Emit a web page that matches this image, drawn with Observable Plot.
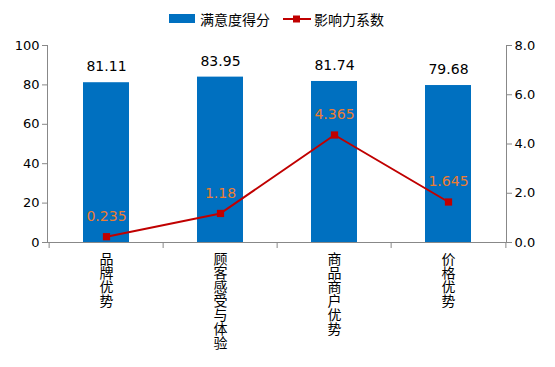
<!DOCTYPE html>
<html><head><meta charset="utf-8">
<script src="https://cdn.jsdelivr.net/npm/d3@7"></script>
<script src="https://cdn.jsdelivr.net/npm/@observablehq/plot@0.6"></script>
<style>
body{margin:0;background:#fff;}
#wrap{position:relative;width:555px;height:367px;font-family:"DejaVu Sans","Noto Sans CJK SC",sans-serif;}
#legend{position:absolute;top:0;left:0;width:555px;height:36px;font-family:"Noto Sans CJK SC",sans-serif;font-size:14px;color:#000;}
#legend .sw{position:absolute;left:169px;top:14px;width:26px;height:9px;background:#0070C0;}
#legend .t1{position:absolute;left:200px;top:9px;line-height:20px;}
#legend svg{position:absolute;left:282px;top:12px;}
#legend .t2{position:absolute;left:314px;top:9px;line-height:20px;}
#chart{position:absolute;top:0;left:0;}
</style></head>
<body><div id="wrap">
<div id="chart"></div>
<div id="legend"></div>
</div>
<script>
const categories = ["品牌优势","顾客感受与体验","商品商户优势","价格优势"];
const scores = [81.11, 83.95, 81.74, 79.68];
const coefs = [0.235, 1.18, 4.365, 1.645];
const scoreLabels = ["81.11","83.95","81.74","79.68"];
const coefLabels = ["0.235","1.18","4.365","1.645"];
const leftTicks = [0,20,40,60,80,100];
const rightTicks = [0,2,4,6,8];
const seriesNames = ["满意度得分","影响力系数"];

const leftMax = 100, rightMax = 8;
const k = leftMax / rightMax;
const rows = categories.map((c,i)=>({cat:c, score:scores[i], coef:coefs[i], coefY:coefs[i]*k, sl:scoreLabels[i], cl:coefLabels[i]}));

const W=555, H=367, mL=47, mR=49, mT=45, mB=125;
const step = (W-mL-mR)/categories.length;
const bounds = categories.map((c,i)=>({cat:c, dx:-step/2})).concat([{cat:categories[categories.length-1], dx:step/2}]);

document.getElementById("legend").innerHTML =
  `<div class="sw"></div><div class="t1">${seriesNames[0]}</div>` +
  `<svg width="30" height="14"><line x1="1" y1="7" x2="29" y2="7" stroke="#C00000" stroke-width="2"/><rect x="11" y="3.5" width="7" height="7" fill="#C00000"/></svg>` +
  `<div class="t2">${seriesNames[1]}</div>`;

const chart = Plot.plot({
  width:W, height:H, marginLeft:mL, marginRight:mR, marginTop:mT, marginBottom:mB,
  style:{fontFamily:'"DejaVu Sans","Noto Sans CJK SC",sans-serif', fontSize:"13px", color:"#000", background:"transparent"},
  x:{domain:categories, paddingInner:0.6, paddingOuter:0.3, axis:null},
  y:{domain:[0,leftMax], axis:null},
  marks:[
    Plot.barY(rows,{x:"cat", y:"score", fill:"#0070C0"}),
    Plot.frame({anchor:"left", stroke:"#888"}),
    Plot.frame({anchor:"right", stroke:"#888"}),
    Plot.frame({anchor:"bottom", stroke:"#888"}),
    ...bounds.map(b=>Plot.ruleX([b],{x:"cat", dx:b.dx, y1:0, y2:0, insetTop:0, insetBottom:-6, stroke:"#888"})),
    Plot.axisY({ticks:leftTicks, tickSize:5, tickPadding:3, stroke:"#888", fill:"#000", fontSize:13}),
    Plot.axisY({anchor:"right", ticks:rightTicks.map(v=>v*k), tickFormat:d=>(d/k).toFixed(1), tickSize:5, tickPadding:3, stroke:"#888", fill:"#000", fontSize:13}),
    Plot.axisX({tickSize:0, tickPadding:12, label:null, tickFormat:d=>[...d].join("\n"), lineHeight:1, fontSize:14, fill:"#000", fontFamily:'"Noto Sans CJK SC",sans-serif'}),
    Plot.line(rows,{x:"cat", y:"coefY", stroke:"#C00000", strokeWidth:2}),
    Plot.dot(rows,{x:"cat", y:"coefY", symbol:"square", fill:"#C00000", r:4.1}),
    Plot.text(rows,{x:"cat", y:"score", text:"sl", dy:-16, fontSize:14, fill:"#000"}),
    Plot.text(rows,{x:"cat", y:"coefY", text:"cl", dy:-20, fontSize:14, fill:"#ED7D31"})
  ]
});
document.getElementById("chart").appendChild(chart);
</script>
</body></html>
